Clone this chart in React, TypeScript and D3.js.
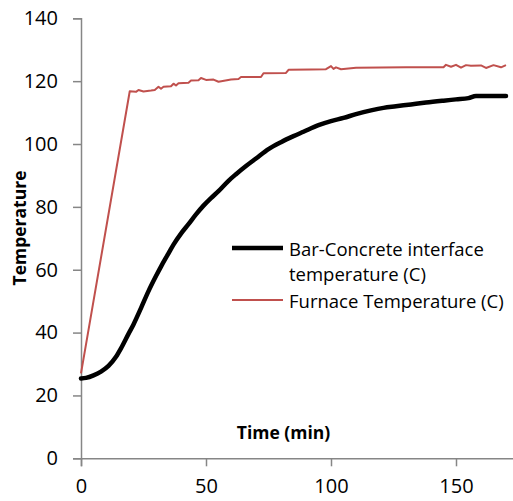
import React, { useRef, useEffect } from 'react';
import { select, scaleLinear, axisBottom, axisLeft, line, curveMonotoneX } from 'd3';

// furnace temperature readings (C) against time (min)
const furnaceTime = [0, 19.5, 22, 23, 25, 28, 29.5, 31, 32, 33, 36, 37, 38, 39, 43, 44, 47, 48, 50, 53, 55, 60, 63, 64, 72, 73, 82, 83, 92, 98, 99, 100, 101, 102, 104, 110, 130, 145, 146, 148, 150, 152, 154, 156, 160, 162, 165, 168, 170];
const furnaceTemp = [27, 116.8, 116.6, 117.2, 116.7, 117.0, 117.2, 118.2, 117.6, 118.2, 118.4, 119.2, 118.6, 119.3, 119.5, 120.2, 120.3, 121.0, 120.4, 120.5, 119.8, 120.5, 120.7, 121.3, 121.3, 122.5, 122.6, 123.6, 123.7, 123.8, 124.3, 124.8, 123.9, 124.4, 123.8, 124.3, 124.4, 124.4, 125.2, 124.6, 125.2, 124.3, 125.1, 124.9, 125.0, 124.2, 125.1, 124.4, 125.1];

// bar-concrete interface temperature
const barTime = [0, 2, 5, 8, 11, 14, 16, 19, 21, 24, 27, 30, 32, 35, 37, 40, 43, 46, 49, 52, 55, 59, 62, 66, 70, 75, 80, 85, 89, 95, 100, 105, 110, 116, 121, 126, 132, 138, 145, 150, 155, 158, 163, 170];
const barTemp = [25.4, 25.6, 26.4, 27.6, 29.4, 32.3, 35.0, 39.6, 42.6, 47.8, 53.2, 58.0, 61.0, 65.2, 68.0, 71.5, 74.5, 77.6, 80.4, 82.8, 85.0, 88.3, 90.4, 93.0, 95.4, 98.4, 100.6, 102.5, 103.9, 106.0, 107.3, 108.3, 109.5, 110.7, 111.5, 112.0, 112.6, 113.2, 113.8, 114.2, 114.6, 115.3, 115.3, 115.3];

const xTicks = [0, 50, 100, 150];
const yTicks = [0, 20, 40, 60, 80, 100, 120, 140];
const legendLabels = [['Bar-Concrete interface', 'temperature (C)'], ['Furnace Temperature (C)']];

const W = 513, H = 501;
const FONT = "'Open Sans', sans-serif";

export default function App() {
  const svgRef = useRef<SVGSVGElement>(null);

  const x = scaleLinear().domain([0, 175]).range([81, 518.5]);
  const y = scaleLinear().domain([0, 140]).range([458.3, 18.3]);

  useEffect(() => {
    const svg = select(svgRef.current);

    svg.select<SVGGElement>('.x-axis')
      .attr('transform', `translate(0,${y(0)})`)
      .call(axisBottom(x).tickValues(xTicks).tickSize(8).tickPadding(13))
      .call(g => {
        g.select('.domain').attr('stroke', '#868686').attr('stroke-width', 1.5);
        g.selectAll('.tick line').attr('stroke', '#868686').attr('stroke-width', 1.5);
        g.selectAll('.tick text').attr('font-family', FONT).attr('font-size', 20).attr('fill', '#000');
      });

    svg.select<SVGGElement>('.y-axis')
      .attr('transform', `translate(${x(0)},0)`)
      .call(axisLeft(y).tickValues(yTicks).tickSize(8).tickPadding(15))
      .call(g => {
        g.select('.domain').attr('stroke', '#868686').attr('stroke-width', 1.5);
        g.selectAll('.tick line').attr('stroke', '#868686').attr('stroke-width', 1.5);
        g.selectAll('.tick text').attr('font-family', FONT).attr('font-size', 20).attr('fill', '#000');
      });
  }, []);

  const furnaceLine = line<number>()
    .x((_, i) => x(furnaceTime[i]))
    .y(d => y(d));

  const barLine = line<number>()
    .x((_, i) => x(barTime[i]))
    .y(d => y(d))
    .curve(curveMonotoneX);

  return (
    <svg ref={svgRef} width={W} height={H}
      style={{ position: 'absolute', left: 0, top: 0, background: '#fff' }}>
      <g className="x-axis" />
      <g className="y-axis" />

      <path d={furnaceLine(furnaceTemp) || ''} fill="none" stroke="#c0504d" strokeWidth={2} strokeLinejoin="round" />
      <path d={barLine(barTemp) || ''} fill="none" stroke="#000" strokeWidth={4.5} strokeLinejoin="round" strokeLinecap="round" />

      <text x={18.5} y={228} transform="rotate(-90,18.5,228)" textAnchor="middle" dominantBaseline="central"
        fontFamily={FONT} fontWeight="bold" fontSize={17.5}>Temperature</text>
      <text x={283.5} y={432} textAnchor="middle" dominantBaseline="central"
        fontFamily={FONT} fontWeight="bold" fontSize={17.5}>Time (min)</text>

      <g fontFamily={FONT} fontSize={18.5}>
        <line x1={232} x2={283} y1={248} y2={248} stroke="#000" strokeWidth={4.5} />
        <text x={289} y={248.3} dominantBaseline="central">{legendLabels[0][0]}</text>
        <text x={289} y={273.3} dominantBaseline="central">{legendLabels[0][1]}</text>
        <line x1={232} x2={283} y1={300} y2={300} stroke="#c0504d" strokeWidth={2} />
        <text x={289} y={300} dominantBaseline="central">{legendLabels[1][0]}</text>
      </g>
    </svg>
  );
}
